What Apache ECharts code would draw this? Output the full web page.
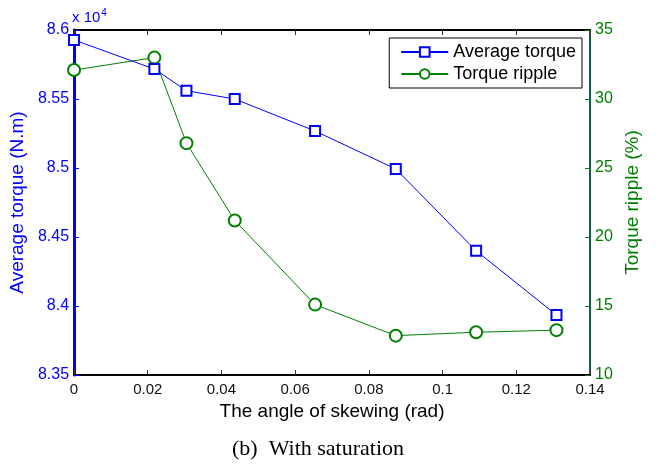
<!DOCTYPE html>
<html><head><meta charset="utf-8">
<script src="https://cdn.jsdelivr.net/npm/echarts@6/dist/echarts.min.js"></script>
<style>html,body{margin:0;padding:0;background:#fff}#c{width:660px;height:465px}</style>
</head><body><div id="c"></div>
<script>
const skewAngles = [0, 0.0218, 0.0305, 0.0436, 0.0654, 0.0873, 0.1091, 0.1309];
const avgTorque = [8.5928, 8.5717, 8.556, 8.550, 8.5268, 8.4993, 8.440, 8.3935]; // x 10^4 N.m
const torqueRipple = [32.1, 33.0, 26.8, 21.2, 15.1, 12.85, 13.1, 13.25]; // %
const xTicks = {min: 0, max: 0.14, interval: 0.02};
const leftTicks = {min: 8.35, max: 8.6, interval: 0.05};
const rightTicks = {min: 10, max: 35, interval: 5};

const font = 'Liberation Sans, Arial, sans-serif';
const chart = echarts.init(document.getElementById('c'));
const fmt = v => String(parseFloat(v.toFixed(3)));
chart.setOption({
  animation: false,
  backgroundColor: '#fff',
  grid: {left: 72, right: 70, top: 30, bottom: 90},
  legend: {
    orient: 'vertical', right: 78, top: 38,
    backgroundColor: '#fff', borderColor: '#000', borderWidth: 1, borderRadius: 0,
    padding: [5, 6, 5, 11], itemGap: 4, itemWidth: 47, itemHeight: 12,
    textStyle: {fontFamily: font, fontSize: 18, color: '#000'},
    data: ['Average torque', 'Torque ripple']
  },
  xAxis: [{
    type: 'value', min: xTicks.min, max: xTicks.max, interval: xTicks.interval,
    name: 'The angle of skewing (rad)', nameLocation: 'middle', nameGap: 27,
    nameTextStyle: {fontFamily: font, fontSize: 19, color: '#000'},
    axisLine: {show: true, onZero: false, lineStyle: {color: '#000', width: 2}},
    axisTick: {show: true, inside: true, length: 5, lineStyle: {color: '#333', width: 1}},
    axisLabel: {fontFamily: font, fontSize: 15, color: '#111', margin: 7, formatter: fmt},
    splitLine: {show: false}
  }, {
    type: 'value', position: 'top', min: xTicks.min, max: xTicks.max, interval: xTicks.interval,
    axisLine: {show: true, onZero: false, lineStyle: {color: '#000', width: 2}},
    axisTick: {show: true, inside: true, length: 5, lineStyle: {color: '#333', width: 1}},
    axisLabel: {show: false}, splitLine: {show: false}
  }],
  yAxis: [{
    type: 'value', position: 'left', min: leftTicks.min, max: leftTicks.max, interval: leftTicks.interval,
    name: 'Average torque (N.m)', nameLocation: 'middle', nameGap: 43,
    nameTextStyle: {fontFamily: font, fontSize: 19, color: '#0000ff'},
    axisLine: {show: true, onZero: false, lineStyle: {color: '#0000ff', width: 3}},
    axisTick: {show: true, inside: true, length: 5, lineStyle: {color: '#0000ff', width: 1}},
    axisLabel: {fontFamily: font, fontSize: 16, color: '#0000ff', margin: 5, formatter: fmt},
    splitLine: {show: false}
  }, {
    type: 'value', position: 'right', min: rightTicks.min, max: rightTicks.max, interval: rightTicks.interval,
    name: 'Torque ripple (%)', nameLocation: 'middle', nameGap: 28, nameRotate: 90,
    nameTextStyle: {fontFamily: font, fontSize: 19, color: '#008000'},
    axisLine: {show: true, onZero: false, lineStyle: {color: '#0d5a4f', width: 2}},
    axisTick: {show: true, inside: true, length: 5, lineStyle: {color: '#008000', width: 1}},
    axisLabel: {fontFamily: font, fontSize: 16, color: '#008000', margin: 5},
    splitLine: {show: false}
  }],
  graphic: [{
    type: 'text', left: 72, top: 8,
    style: {
      text: '{a|x 10}{b|4}', fill: '#0000ff',
      rich: {a: {fontFamily: font, fontSize: 15, fill: '#0000ff'},
             b: {fontFamily: font, fontSize: 10, fill: '#0000ff', verticalAlign: 'top', padding: [0, 0, 9, 1]}}
    }
  }, {
    type: 'text', left: 232, top: 438,
    style: {text: '(b)  With saturation', fontFamily: 'Liberation Serif, Times New Roman, serif', fontSize: 22, fill: '#000'}
  }],
  series: [{
    name: 'Torque ripple', type: 'line', xAxisIndex: 0, yAxisIndex: 1,
    data: skewAngles.map((x, i) => [x, torqueRipple[i]]),
    symbol: 'emptyCircle', symbolSize: 12,
    lineStyle: {color: '#008000', width: 1}, itemStyle: {color: '#008000', borderColor: '#008000', borderWidth: 0.8}
  }, {
    name: 'Average torque', type: 'line', xAxisIndex: 0, yAxisIndex: 0,
    data: skewAngles.map((x, i) => [x, avgTorque[i]]),
    symbol: 'emptyRect', symbolSize: 10,
    lineStyle: {color: '#0000ff', width: 1}, itemStyle: {color: '#0000ff', borderColor: '#0000ff', borderWidth: 0.8}
  }]
});
</script></body></html>
